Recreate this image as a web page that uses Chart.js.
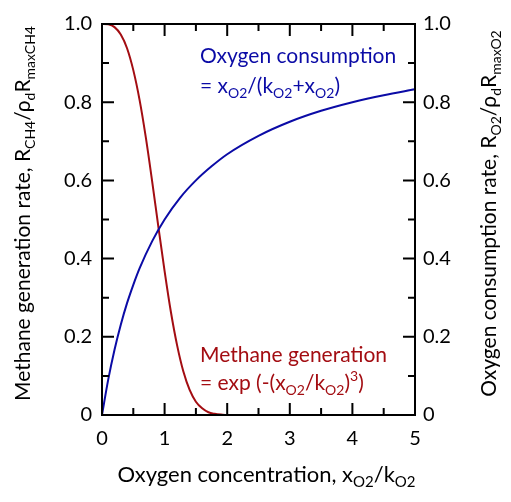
<!DOCTYPE html>
<html>
<head>
<meta charset="utf-8">
<script src="https://cdn.jsdelivr.net/npm/chart.js@4.4.1/dist/chart.umd.min.js"></script>
<style>
  html, body { margin: 0; padding: 0; background: #fff; }
  #wrap { width: 511px; height: 502px; }
</style>
</head>
<body>
<div id="wrap"><canvas id="chart" width="511" height="502"></canvas></div>
<script>
// values
const o2X = [0, 0.1, 0.2, 0.3, 0.4, 0.5, 0.6, 0.8, 1, 1.25, 1.5, 1.75, 2, 2.5, 3, 3.5, 4, 4.5, 5];
const o2Rate = [0, 0.091, 0.167, 0.231, 0.286, 0.333, 0.375, 0.444, 0.500, 0.556, 0.600, 0.636, 0.667,
  0.714, 0.750, 0.778, 0.800, 0.818, 0.833];

const ch4X = [0, 0.1, 0.2, 0.3, 0.4, 0.5, 0.6, 0.7, 0.8, 0.9, 1.0, 1.1, 1.2, 1.3, 1.4, 1.5, 1.6, 1.7, 1.8, 1.9, 2.0];
const ch4Rate = [1.000, 0.999, 0.992, 0.973, 0.938, 0.882, 0.806, 0.710, 0.599, 0.482, 0.368, 0.264, 0.178,
  0.111, 0.064, 0.034, 0.017, 0.007, 0.003, 0.001, 0.000];

const xTicks = [0, 1, 2, 3, 4, 5];
const yTicks = [0, 0.2, 0.4, 0.6, 0.8, 1.0];

const BLUE = "#0b0ba6";
const RED = "#a30d12";
const FONT = "Lato";
const FS = 20;

function pts(xs, ys) {
  return xs.map((x, i) => ({ x: x, y: ys[i] }));
}

// draws text with subscripts / superscripts, parts = [[text, kind], ...]
function richWidth(ctx, parts, size) {
  let w = 0;
  parts.forEach(([t, k]) => {
    ctx.font = (k === "n" ? size : Math.round(size * 0.68)) + "px " + FONT;
    w += ctx.measureText(t).width;
  });
  return w;
}
function drawRich(ctx, parts, x, y, size, align) {
  const w = richWidth(ctx, parts, size);
  let cx = align === "center" ? x - w / 2 : x;
  ctx.textBaseline = "alphabetic";
  ctx.textAlign = "left";
  parts.forEach(([t, k]) => {
    let dy = 0;
    if (k === "n") ctx.font = size + "px " + FONT;
    else {
      ctx.font = Math.round(size * 0.68) + "px " + FONT;
      dy = k === "sub" ? size * 0.22 : -size * 0.42;
    }
    ctx.fillText(t, cx, y + dy);
    cx += ctx.measureText(t).width;
  });
}

const decorPlugin = {
  id: "decor",
  afterDraw(chart) {
    const ctx = chart.ctx;
    const a = chart.chartArea;
    const sx = chart.scales.x, sy = chart.scales.y;
    ctx.save();
    ctx.strokeStyle = "#000";
    ctx.lineWidth = 2;
    // inward ticks on all four sides
    ctx.beginPath();
    for (let v = 0.5; v < 5; v += 0.5) {
      const px = sx.getPixelForValue(v);
      const len = Number.isInteger(v) ? 12 : 7;
      ctx.moveTo(px, a.bottom); ctx.lineTo(px, a.bottom - len);
      ctx.moveTo(px, a.top); ctx.lineTo(px, a.top + len);
    }
    for (let i = 1; i < 10; i++) {
      const py = sy.getPixelForValue(i / 10);
      const len = i % 2 === 0 ? 12 : 7;
      ctx.moveTo(a.left, py); ctx.lineTo(a.left + len, py);
      ctx.moveTo(a.right, py); ctx.lineTo(a.right - len, py);
    }
    ctx.stroke();
    ctx.strokeRect(a.left, a.top, a.right - a.left, a.bottom - a.top);

    // axis titles
    ctx.fillStyle = "#000";
    drawRich(ctx, [["Oxygen concentration, x", "n"], ["O2", "sub"], ["/k", "n"], ["O2", "sub"]],
      (a.left + a.right) / 2 + 8, 482, FS + 2, "center");

    ctx.save();
    ctx.translate(30, (a.top + a.bottom) / 2 - 6);
    ctx.rotate(-Math.PI / 2);
    drawRich(ctx, [["Methane generation rate, R", "n"], ["CH4", "sub"], ["/\u03c1", "n"], ["d", "sub"],
      ["R", "n"], ["maxCH4", "sub"]], 0, 0, FS + 1, "center");
    ctx.restore();

    ctx.save();
    ctx.translate(496, (a.top + a.bottom) / 2 - 6);
    ctx.rotate(-Math.PI / 2);
    drawRich(ctx, [["Oxygen consumption rate, R", "n"], ["O2", "sub"], ["/\u03c1", "n"], ["d", "sub"],
      ["R", "n"], ["maxO2", "sub"]], 0, 0, FS + 1, "center");
    ctx.restore();

    // curve annotations
    ctx.fillStyle = BLUE;
    drawRich(ctx, [["Oxygen consumption", "n"]], 200, 63, FS + 1, "left");
    drawRich(ctx, [["= x", "n"], ["O2", "sub"], ["/(k", "n"], ["O2", "sub"], ["+x", "n"], ["O2", "sub"], [")", "n"]],
      200, 93, FS + 1, "left");
    ctx.fillStyle = RED;
    drawRich(ctx, [["Methane generation", "n"]], 200, 362, FS + 1, "left");
    drawRich(ctx, [["= exp (-(x", "n"], ["O2", "sub"], ["/k", "n"], ["O2", "sub"], [")", "n"], ["3", "sup"], [")", "n"]],
      200, 390, FS + 1, "left");
    ctx.restore();
  }
};

function tickFmt(v) {
  return v === 0 ? "0" : v.toFixed(1);
}

new Chart(document.getElementById("chart"), {
  type: "line",
  data: {
    datasets: [
      {
        label: "Oxygen consumption",
        data: pts(o2X, o2Rate),
        borderColor: BLUE,
        borderWidth: 2,
        pointRadius: 0,
        cubicInterpolationMode: "monotone",
        yAxisID: "y"
      },
      {
        label: "Methane generation",
        data: pts(ch4X, ch4Rate),
        borderColor: RED,
        borderWidth: 2,
        pointRadius: 0,
        cubicInterpolationMode: "monotone",
        yAxisID: "y"
      }
    ]
  },
  options: {
    responsive: false,
    animation: false,
    layout: { padding: { top: 24, left: 0, right: 0, bottom: 0 } },
    plugins: { legend: { display: false }, tooltip: { enabled: false } },
    scales: {
      x: {
        type: "linear",
        min: 0, max: 5,
        grid: { display: false, drawTicks: false },
        border: { display: false },
        afterBuildTicks: (s) => { s.ticks = xTicks.map(v => ({ value: v })); },
        afterFit: (s) => { s.height = 87; },
        ticks: { color: "#000", padding: 12, maxRotation: 0, font: { family: FONT, size: FS } }
      },
      y: {
        position: "left",
        min: 0, max: 1,
        grid: { display: false, drawTicks: false },
        border: { display: false },
        afterBuildTicks: (s) => { s.ticks = yTicks.map(v => ({ value: v })); },
        afterFit: (s) => { s.width = 102; },
        ticks: { color: "#000", padding: 10, callback: tickFmt, font: { family: FONT, size: FS } }
      },
      y2: {
        position: "right",
        min: 0, max: 1,
        grid: { display: false, drawTicks: false },
        border: { display: false },
        afterBuildTicks: (s) => { s.ticks = yTicks.map(v => ({ value: v })); },
        afterFit: (s) => { s.width = 96; },
        ticks: { color: "#000", padding: 8, callback: tickFmt, font: { family: FONT, size: FS } }
      }
    }
  },
  plugins: [decorPlugin]
});
</script>
</body>
</html>
